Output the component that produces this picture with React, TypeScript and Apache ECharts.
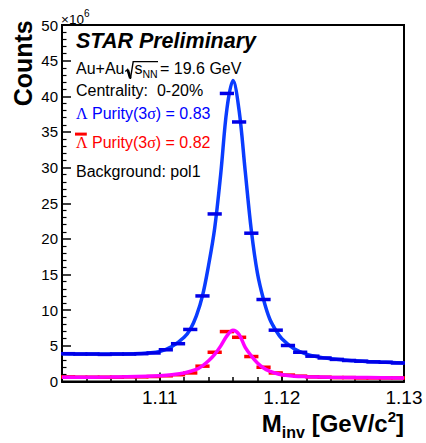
import React, { useEffect, useRef } from 'react';
import * as echarts from 'echarts';

// ---------------- data (counts in units of 10^6) ----------------
const binCenters = [
  1.1025, 1.1035, 1.1045, 1.1055, 1.1065, 1.1075, 1.1085, 1.1095, 1.1105, 1.1115,
  1.1125, 1.1135, 1.1145, 1.1155, 1.1165, 1.1175, 1.1185, 1.1195, 1.1205, 1.1215,
  1.1225, 1.1235, 1.1245, 1.1255, 1.1265, 1.1275, 1.1285, 1.1295,
];
const lambdaCounts = [
  3.9, 3.85, 3.85, 3.8, 3.85, 3.85, 3.9, 4.0, 4.45, 5.3,
  7.3, 12.0, 23.5, 40.4, 36.4, 20.8, 11.5, 7.2, 5.05, 4.1,
  3.55, 3.3, 3.1, 2.95, 2.85, 2.75, 2.7, 2.6,
];
const antiLambdaCounts = [
  0.65, 0.6, 0.6, 0.6, 0.6, 0.65, 0.65, 0.7, 0.8, 0.95,
  1.2, 2.15, 4.1, 7.0, 6.2, 3.5, 2.0, 1.2, 0.9, 0.75,
  0.65, 0.6, 0.55, 0.55, 0.5, 0.5, 0.5, 0.5,
];
const lambdaFitMass = [
  1.102, 1.104, 1.106, 1.108, 1.109, 1.11, 1.111, 1.112, 1.1125, 1.113,
  1.1135, 1.114, 1.1145, 1.115, 1.1155, 1.116, 1.1165, 1.117, 1.1175, 1.118,
  1.1185, 1.119, 1.1195, 1.12, 1.121, 1.122, 1.123, 1.124, 1.125, 1.126,
  1.127, 1.128, 1.129, 1.13,
];
const lambdaFitCounts = [
  3.9, 3.85, 3.85, 3.9, 4.0, 4.2, 4.9, 6.2, 7.3, 9.2,
  12.0, 16.3, 21.5, 29.2, 38.2, 42.2, 38.0, 29.5, 21.2, 15.2,
  11.5, 8.8, 7.2, 6.0, 4.6, 3.85, 3.45, 3.2, 3.05, 2.9,
  2.8, 2.72, 2.65, 2.58,
];
const antiFitMass = [
  1.102, 1.106, 1.109, 1.11, 1.111, 1.112, 1.113, 1.1135, 1.114, 1.1145,
  1.115, 1.1155, 1.116, 1.1165, 1.117, 1.1175, 1.118, 1.1185, 1.119, 1.1195,
  1.12, 1.121, 1.122, 1.124, 1.127, 1.13,
];
const antiFitCounts = [
  0.6, 0.62, 0.72, 0.8, 0.95, 1.2, 1.7, 2.2, 2.9, 3.8,
  5.0, 6.4, 7.2, 6.6, 4.8, 3.6, 2.6, 1.9, 1.45, 1.15,
  0.95, 0.75, 0.68, 0.6, 0.55, 0.5,
];
const xMajorTicks = [1.11, 1.12, 1.13];
const BIN_WIDTH = 0.001;

// ---------------- styling ----------------
const SANS = '"Liberation Sans", Arial, Helvetica, sans-serif';
const SERIF = '"Liberation Serif", "Times New Roman", serif';
const BLUE_LINE = '#0a3cff';
const BLUE_PTS = '#0000e8';
const RED = '#ff0000';
const MAGENTA = '#ff00ff';

type Run = { text: string; size: number; weight?: string; italic?: boolean; family?: string; fill?: string; rise?: number };

let measureCtx: CanvasRenderingContext2D | null = null;
function fontOf(r: Run) {
  return `${r.italic ? 'italic' : 'normal'} ${r.weight || 'normal'} ${r.size}px ${r.family || SANS}`;
}
function textRuns(x: number, baseline: number, list: Run[], fill: string, anchor: 'left' | 'right' = 'left') {
  if (!measureCtx) measureCtx = document.createElement('canvas').getContext('2d');
  const fonts = list.map(fontOf);
  const widths = list.map((r, i) => {
    measureCtx!.font = fonts[i];
    return measureCtx!.measureText(r.text).width;
  });
  const total = widths.reduce((a, b) => a + b, 0);
  let cx = anchor === 'right' ? x - total : x;
  return list.map((r, i) => {
    const el = {
      type: 'text',
      x: cx,
      y: baseline - (r.rise || 0) - 0.35 * r.size,
      silent: true,
      style: { text: r.text, font: fonts[i], fill: r.fill || fill, align: 'left', verticalAlign: 'middle' },
    };
    cx += widths[i];
    return el;
  });
}

function binBars(color: string) {
  return (params: any, api: any) => {
    const x = api.value(0);
    const y = api.value(1);
    const p1 = api.coord([x - BIN_WIDTH / 2, y]);
    const p2 = api.coord([x + BIN_WIDTH / 2, y]);
    return {
      type: 'rect',
      shape: { x: p1[0] - 1, y: p1[1] - 1.75, width: p2[0] - p1[0] + 2, height: 3.5 },
      style: { fill: color },
    };
  };
}

export default function App() {
  const ref = useRef<HTMLDivElement>(null);
  useEffect(() => {
    if (!ref.current) return;
    const chart = echarts.init(ref.current, undefined, { renderer: 'svg' });
    const NB = '\u00a0';
    const FS = 16;
    const R = 3; // shift of the sqrt group
    const graphics: any[] = [
      ...textRuns(76, 48.3, [{ text: 'STAR Preliminary', size: 21.5, weight: 'bold', italic: true }], '#000'),
      ...textRuns(76, 74.3, [{ text: 'Au+Au', size: FS }], '#000'),
      ...textRuns(131.5 + R, 74.3, [{ text: 's', size: FS }, { text: 'NN', size: 10.5, rise: -3.8 }], '#000'),
      ...textRuns(157 + R, 74.3, [{ text: `=${NB}19.6${NB}GeV`, size: FS }], '#000'),
      {
        type: 'polyline', silent: true,
        shape: { points: [[122.3 + R, 71.5], [124.6 + R, 69.5], [127.4 + R, 78.8], [130.2 + R, 61.6], [155 + R, 61.6]] },
        style: { stroke: '#000', lineWidth: 1.4, fill: null },
      },
      {
        type: 'line', silent: true,
        shape: { x1: 124.8 + R, y1: 69.8, x2: 127.2 + R, y2: 78.2 },
        style: { stroke: '#000', lineWidth: 2.6 },
      },
      ...textRuns(76, 95.7, [{ text: `Centrality:${NB}${NB}0-20%`, size: FS }], '#000'),
      ...textRuns(76, 119.3, [
        { text: 'Λ', size: FS, family: SERIF },
        { text: `${NB}Purity(3`, size: FS },
        { text: 'σ', size: FS, family: SERIF },
        { text: `)${NB}=${NB}0.83`, size: FS },
      ], '#0000ff'),
      { type: 'rect', silent: true, shape: { x: 75, y: 132.6, width: 11.8, height: 3 }, style: { fill: RED } },
      ...textRuns(76, 148.3, [
        { text: 'Λ', size: FS, family: SERIF },
        { text: `${NB}Purity(3`, size: FS },
        { text: 'σ', size: FS, family: SERIF },
        { text: `)${NB}=${NB}0.82`, size: FS },
      ], RED),
      ...textRuns(76, 176.7, [{ text: 'Background: pol1', size: FS }], '#000'),
      ...textRuns(61, 24, [{ text: '×10', size: 13.5 }, { text: '6', size: 10, rise: 7 }], '#000'),
      ...textRuns(404, 432, [
        { text: 'M', size: 24, weight: 'bold' },
        { text: 'inv', size: 16, weight: 'bold', rise: -6 },
        { text: `${NB}[GeV/c`, size: 24, weight: 'bold' },
        { text: '2', size: 15, weight: 'bold', rise: 10 },
        { text: ']', size: 24, weight: 'bold' },
      ], '#000', 'right'),
      {
        type: 'text', x: 22.5, y: 63.3, rotation: Math.PI / 2, silent: true,
        style: { text: 'Counts', font: `bold 25px ${SANS}`, fill: '#000', align: 'center', verticalAlign: 'middle' },
      },
    ];

    const option: any = {
      animation: false,
      backgroundColor: '#fff',
      grid: {
        left: 62, top: 25, width: 342, height: 356.5,
        show: true, borderColor: '#000', borderWidth: 2, backgroundColor: 'transparent',
      },
      xAxis: [
        {
          type: 'value', min: 1.102, max: 1.13, interval: 0.002,
          axisLine: { show: true, onZero: false, lineStyle: { color: '#000', width: 2 } },
          axisTick: { show: true, inside: true, length: 4.5, lineStyle: { color: '#000', width: 1.5 } },
          axisLabel: {
            color: '#000', fontSize: 19, fontFamily: SANS, margin: 6,
            showMinLabel: false,
            formatter: (v: number) => {
              const match = xMajorTicks.find((t) => Math.abs(t - v) < 1e-7);
              return match !== undefined ? match.toFixed(2) : '';
            },
          },
          splitLine: { show: false },
        },
        {
          type: 'value', min: 1.102, max: 1.13, position: 'bottom', gridIndex: 0,
          axisLine: { show: false, onZero: false },
          axisTick: { show: true, inside: true, length: 9, customValues: xMajorTicks, lineStyle: { color: '#000', width: 1.5 } },
          axisLabel: { show: false },
          splitLine: { show: false },
        },
      ],
      yAxis: {
        type: 'value', min: 0, max: 50, interval: 5,
        axisLine: { show: true, onZero: false, lineStyle: { color: '#000', width: 2 } },
        axisTick: { show: true, inside: true, length: 9, lineStyle: { color: '#000', width: 1.5 } },
        minorTick: { show: true, splitNumber: 5, length: 4.5, lineStyle: { color: '#000', width: 1.2 } },
        axisLabel: { color: '#000', fontSize: 15, fontFamily: SANS, margin: 4 },
        splitLine: { show: false },
      },
      series: [
        {
          type: 'line', name: 'Lambda fit', z: 2, smooth: 0.35, showSymbol: false,
          data: lambdaFitMass.map((m, i) => [m, lambdaFitCounts[i]]),
          lineStyle: { color: BLUE_LINE, width: 3.5 },
        },
        {
          type: 'custom', name: 'Lambda', z: 3, renderItem: binBars(BLUE_PTS),
          data: binCenters.map((m, i) => [m, lambdaCounts[i]]),
        },
        {
          type: 'custom', name: 'AntiLambda', z: 4, renderItem: binBars(RED),
          data: binCenters.map((m, i) => [m, antiLambdaCounts[i]]),
        },
        {
          type: 'line', name: 'AntiLambda fit', z: 5, smooth: 0.35, showSymbol: false,
          data: antiFitMass.map((m, i) => [m, antiFitCounts[i]]),
          lineStyle: { color: MAGENTA, width: 3.5 },
        },
      ],
      graphic: { elements: graphics },
    };
    chart.setOption(option);
    return () => chart.dispose();
  }, []);
  return <div ref={ref} style={{ position: 'absolute', left: 0, top: 0, width: 426, height: 443 }} />;
}
